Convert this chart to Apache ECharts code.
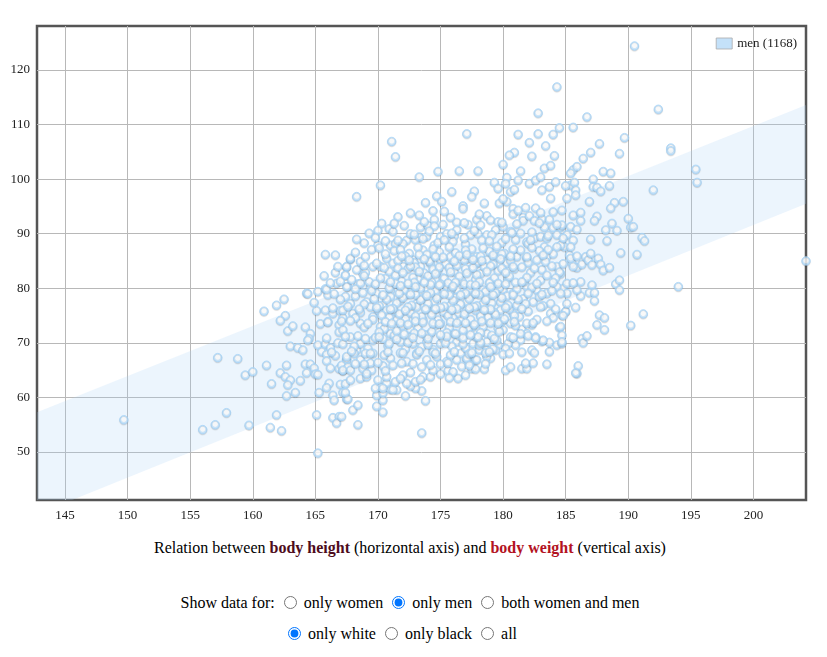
<!DOCTYPE html>
<html lang="en">
<head>
<meta charset="UTF-8" />
<title>body height vs body weight</title>
<script src="https://cdn.jsdelivr.net/npm/echarts@6/dist/echarts.min.js"></script>
<style>
  body { margin: 0; background: #fff; font-family: "Liberation Serif", "Times New Roman", serif; color: #000; }
  #chart { position: absolute; left: 0; top: 0; width: 827px; height: 527px; }
  .line { position: absolute; left: 0; width: 820px; text-align: center; font-size: 16px; line-height: 20px; white-space: nowrap; }
  .line input { vertical-align: -1px; }
  .h { color: #4e0c1c; font-weight: bold; }
  .w { color: #b3131f; font-weight: bold; }
</style>
</head>
<body>
<div id="chart"></div>
<div class="line" style="top:538px">Relation between <span class="h">body height</span> (horizontal axis) and <span class="w">body weight</span> (vertical axis)</div>
<div class="line" style="top:593px">Show data for: <input type="radio" name="sex"> only women <input type="radio" name="sex" checked> only men <input type="radio" name="sex"> both women and men</div>
<div class="line" style="top:624px;width:800px"><input type="radio" name="race" checked> only white <input type="radio" name="race"> only black <input type="radio" name="race"> all</div>
<script>
// axis ranges (cm / kg) and tick labels
var xRange = [142.76, 204.2];
var yRange = [41.2, 128.06];
var xTicks = [145, 150, 155, 160, 165, 170, 175, 180, 185, 190, 195, 200];
var yTicks = [50, 60, 70, 80, 90, 100, 110, 120];
var seriesName = 'men (1168)';

// regression band edges [height, weight]
var bandUpper = [[142.76, 57.3], [204.2, 113.6]];
var bandLower = [[142.76, 38.6], [204.2, 95.5]];

// sparse points / outliers
var menOutliers = [
  [190.5,124.4],[184.3,116.9],[192.4,112.8],[182.8,112.1],[186.7,111.4],[193.4,105.7],[193.4,105.2],
  [189.7,107.6],[177.1,108.3],[171.1,106.9],[171.4,104.1],[192.0,98.0],[194.0,80.3],[195.4,101.8],
  [195.5,99.4],[204.2,85.0],[165.2,49.8],[149.7,55.9],[173.5,53.5],[168.3,96.8],[170.2,98.9]
];

// lower left of the cloud
var menLeft = [
  [156.0,54.1],[157.0,55.0],[157.9,57.2],[157.2,67.3],[158.8,67.1],[159.4,64.1],[160.0,64.7],[159.7,54.9],
  [161.1,65.9],[160.9,75.8],[161.9,76.9],[162.5,78.0],[162.6,75.0],[162.2,74.1],[162.8,72.2],[163.2,73.1],
  [163.0,69.4],[163.6,69.1],[164.0,68.7],[162.2,64.5],[162.6,63.8],[163.0,63.2],[161.5,62.5],[162.7,65.9],
  [162.8,62.3],[162.7,60.3],[163.4,60.9],[163.8,63.1],[161.9,56.8],[161.4,54.5],[162.3,53.9],[164.2,72.9],
  [164.6,71.7],[164.5,70.8],[164.4,70.5],[164.2,66.1],[164.6,66.1],[164.9,65.4],[164.3,64.5],[165.0,64.3],
  [165.2,64.2],[165.3,60.9],[165.1,56.8],[166.4,56.3],[166.9,56.5],[166.7,55.3],[164.3,79.1],[165.2,79.4],
  [165.8,79.9],[166.0,78.8],[164.9,77.4],[165.1,75.9],[165.8,76.0],[166.4,75.4],[167.0,75.9],[165.4,73.5],
  [166.0,73.9],[166.9,73.3],[165.2,69.6],[165.8,69.8],[166.2,69.1],[166.8,70.0],[167.2,69.8],[165.5,68.4],
  [165.9,67.9],[166.6,67.7],[165.9,66.7],[166.2,65.4],[166.9,65.3],[167.2,64.9],[167.5,67.0],[167.5,65.3],
  [166.1,62.6],[165.9,61.8],[167.0,62.4],[167.4,62.5],[166.4,60.4],[166.5,59.5],[167.2,60.9],[167.5,59.7],
  [166.7,80.9],[167.4,78.5],[167.0,78.0],[167.2,74.6],[167.1,74.0],[166.9,72.0],[167.2,72.4],
  [165.8,86.2],[167.8,85.3],[167.5,83.9],[166.6,82.9],[167.4,82.4],[165.7,82.3],[167.6,80.3],[168.4,80.8],
  [165.9,79.8],[164.4,79.0]
];

// lower edge of the cloud
var menLower = [
  [168.4,55.0],[168.0,57.7],[168.4,58.6],[167.1,56.5],[169.9,58.4],[170.4,57.3],[167.6,59.7],[167.4,60.9],
  [173.8,59.4],[172.2,60.3],[171.5,61.4],[170.4,59.5],[169.9,60.4],[173.5,61.2],[173.0,61.7],[172.6,62.1],
  [171.0,61.5],[170.4,60.8],[170.2,61.9],[170.7,62.6],[171.4,62.9],[173.6,63.8],[174.2,63.8],[175.0,64.3],
  [175.6,64.9],[176.4,63.5],[177.0,64.1],[177.5,65.3],[178.5,65.2],[177.8,65.2],[180.2,65.0],[180.6,65.6],
  [181.5,65.3],[181.9,65.3],[182.4,66.3],[181.8,66.3],[183.5,66.1],[183.7,68.4],[182.3,68.7],[182.5,68.2],
  [185.9,64.4],[186.0,65.8],[185.8,64.5],[184.5,72.8],[185.0,75.7],[184.7,75.1],[183.8,75.4],[183.7,70.1],
  [183.1,70.3],[184.3,69.6],[184.7,69.9],[179.9,73.9],[180.6,73.6],[181.5,72.5],[181.9,71.7],[182.3,73.3],
  [182.6,71.1],[183.2,70.5],[181.4,70.5],[181.0,69.6],[180.4,69.9],[180.2,69.0],[179.6,69.6],[179.4,68.7],
  [179.0,67.2],[178.7,68.7],[178.1,68.7],[177.8,66.9],[177.1,66.9],[176.6,68.1],
  [168.3,68.7],[168.1,68.1],[167.5,66.9],[167.1,65.9],[167.6,65.6],[167.2,65.0],[167.8,63.2],[168.6,63.5],
  [169.1,63.8],[168.8,65.3],[169.5,65.0],[170.0,63.2],[170.7,63.8],[169.8,61.7],[170.4,61.7],[171.2,61.4],
  [172.0,64.1],[172.3,62.6],[173.0,62.9]
];

// upper part of the cloud
var menUpper = [
  [181.2,108.2],[182.8,108.3],[184.0,108.2],[184.5,109.4],[185.6,109.5],[182.1,106.7],[183.4,106.1],
  [182.3,104.2],[184.1,104.3],[180.9,104.9],[180.5,104.4],[180.0,102.7],[181.4,101.5],[183.3,102.0],
  [183.8,102.5],[173.3,100.4],[174.8,101.4],[176.5,101.5],[178.0,101.5],[179.3,99.4],[179.6,98.3],
  [180.3,100.3],[180.2,99.2],[181.2,99.8],[180.6,97.7],[180.9,98.1],[182.1,99.2],[182.6,99.8],[183.0,100.4],
  [183.7,98.6],[184.2,99.5],[183.8,96.5],[183.1,98.0],[185.1,96.5],[185.4,98.9],[185.6,101.7],[185.9,102.3],
  [175.9,97.7],[177.7,97.8],[177.5,96.8],[174.7,96.9],[175.1,95.9],[173.8,95.7],[178.5,95.6],[179.7,95.6],
  [180.3,95.9],[180.0,96.4],[180.8,94.6],[181.8,94.8],[182.6,94.7],[184.0,94.0],[184.7,94.3],[185.6,93.4],
  [176.8,95.1],[176.8,94.6],[174.4,94.2],[173.3,93.4],[171.6,93.1],[170.3,91.9],[170.0,90.6],[170.9,90.9],
  [172.1,91.5],[173.4,91.2],[174.0,91.5],[174.5,92.6],[174.5,91.4],[175.8,93.0],[176.3,92.1],[177.2,91.7],
  [177.9,92.6],[178.7,93.3],[179.0,92.5],[179.6,92.2],[180.8,93.6],[181.6,93.0],[181.6,92.4],[182.1,93.3],
  [182.5,92.4],[183.1,92.7],[183.7,92.6],[183.3,91.2],[184.0,91.1],[184.6,91.2],[185.4,91.3]
];

// right side of the cloud
var menRight = [
  [187.7,106.5],[187.0,104.9],[186.4,103.8],[189.3,104.7],[185.4,101.1],[188.0,101.4],[188.6,101.1],
  [187.2,100.0],[187.2,98.6],[187.5,98.5],[187.8,97.8],[188.5,98.8],[185.0,98.8],[185.7,99.4],[185.8,98.0],
  [185.8,97.1],[186.9,95.9],[188.9,95.7],[189.6,95.9],[188.6,94.7],[187.5,93.2],[187.3,92.4],[186.2,93.9],
  [186.2,92.4],[184.7,91.6],[185.9,90.8],[188.7,91.9],[188.2,90.7],[189.1,90.6],[190.0,92.8],[190.2,91.2],
  [190.4,91.3],[191.1,89.3],[191.3,88.7],[187.0,89.0],[188.3,88.7],[189.4,86.5],[190.7,86.2],
  [185.3,86.1],[185.5,84.7],[185.9,83.8],[186.3,84.4],[186.6,85.8],[186.8,85.2],[187.1,84.3],[187.6,85.5],
  [187.8,84.4],[188.0,83.3],[188.5,83.8],[187.0,86.4],[184.9,87.6],[184.6,87.9],[184.6,82.7],[184.8,80.0],
  [185.1,80.9],[186.2,81.2],[187.1,80.6],[186.9,79.2],[187.3,79.2],[187.3,77.7],[186.2,78.6],[189.0,80.8],
  [189.3,81.5],[189.3,79.7],[191.2,75.3],[190.2,73.2],[187.7,75.1],[188.1,74.6],[187.5,73.3],[188.1,72.4],
  [185.0,75.8],[184.8,75.0],[184.6,73.0],[184.7,71.4],[184.7,70.2],[186.3,70.8],[186.4,70.0],[186.7,71.3]
];

// dense core of the cloud
var menCore = [
  [170.0,87.9],[171.0,87.9],[171.4,88.2],[172.3,88.8],[172.6,90.0],[173.3,89.3],[173.9,89.5],[174.5,87.9],
  [175.0,89.5],[175.5,90.0],[176.1,89.6],[176.3,90.7],[177.4,89.8],[178.0,90.0],[178.7,89.8],[179.4,90.7],
  [180.0,91.3],[180.6,90.4],[181.4,90.1],[181.9,88.5],[182.5,89.2],[183.0,89.5],[183.5,89.2],[184.3,89.8],
  [185.1,89.8],[185.6,88.8],[183.3,87.6],[184.3,87.6],[185.4,87.6],
  [167.5,84.0],[167.8,85.5],[167.4,82.4],[168.8,82.7],[169.6,84.0],[170.2,84.0],[170.7,85.5],[171.2,84.6],
  [172.0,84.0],[172.8,85.2],[173.4,84.0],[174.2,84.6],[175.0,85.2],[175.8,85.8],[176.6,85.2],[177.2,85.5],
  [177.9,84.6],[178.7,85.2],[179.5,85.8],[180.3,84.6],[181.1,85.8],[181.9,85.5],[182.7,85.2],[183.5,85.8],
  [184.3,84.0],[185.4,85.5],[185.6,84.0],
  [167.5,80.3],[168.6,80.9],[169.4,80.3],[169.9,79.1],[171.0,79.7],[171.8,80.3],[172.6,79.1],[173.1,80.3],
  [173.9,80.0],[174.7,79.1],[175.5,80.3],[176.3,79.7],[177.1,80.3],[177.6,79.1],[178.4,79.7],[179.2,80.3],
  [180.0,79.7],[180.8,79.1],[181.9,80.3],[182.7,79.7],[183.5,79.1],[184.3,80.3],[185.1,79.1],[185.9,79.7],
  [167.8,77.2],[169.1,77.5],[170.4,76.9],[171.8,77.8],[173.1,77.2],[174.5,77.5],[175.8,76.9],[177.1,77.5],
  [178.4,77.2],[179.8,77.5],[181.1,76.9],[182.4,77.5],[183.8,77.2],[185.1,77.2],
  [167.2,76.0],[168.0,75.4],[168.6,73.6],[169.4,76.6],[169.6,74.8],[170.2,73.0],[170.7,76.0],[171.0,71.7],
  [171.5,74.2],[172.3,75.4],[172.6,72.4],[173.1,76.6],[173.6,74.2],[174.2,71.7],[174.5,76.0],[175.0,73.6],
  [175.5,75.4],[176.1,71.7],[176.6,74.2],[177.1,76.0],[177.6,73.0],[178.2,75.4],[178.7,71.7],[179.2,74.2],
  [179.8,76.0],[180.0,72.4],[180.8,75.4],[181.4,71.7],[181.9,73.6],
  [167.8,71.1],[168.6,69.9],[169.6,70.5],[170.4,70.8],[171.8,70.2],[172.8,69.9],[173.9,70.2],[175.0,69.9],
  [176.3,70.2],[177.6,69.9],[178.7,70.2],[179.5,70.5],[167.5,67.5],[168.6,66.9],[169.4,66.3],[169.6,68.1],
  [171.0,67.2],[172.3,66.6],[173.1,68.1],[173.9,66.9],[174.7,67.5],[175.5,66.6],[176.3,66.9],[177.1,67.2],
  [177.9,66.9],[178.7,67.5],[167.8,65.0],[169.1,64.4],
  [168.9,88.3],[170.6,88.7],[172.0,88.2],[173.0,88.9],[174.8,88.4],[176.0,88.6],[177.0,88.1],[178.3,88.8],
  [179.9,88.4],[181.0,88.9],[182.0,88.2],
  [168.2,86.6],[169.5,87.1],[171.3,86.9],[172.5,86.4],[173.6,87.0],[174.9,86.7],[176.2,86.5],[177.5,87.2],
  [178.9,86.8],[180.1,86.4],[181.4,87.0],[182.9,86.9],[184.0,86.3],
  [168.3,83.4],[169.0,82.9],[170.9,83.1],[172.4,83.6],[173.7,82.8],[174.8,83.3],[176.1,83.0],[177.4,83.5],
  [178.2,82.7],[179.6,83.2],[180.9,83.6],[182.2,82.9],[183.1,83.4],[184.5,83.0],
  [167.9,81.6],[169.3,81.2],[170.6,81.8],[171.9,81.3],[173.2,81.7],[174.3,81.1],[175.2,81.9],[176.7,81.4],
  [177.8,81.6],[179.0,81.2],[180.4,81.8],[181.7,81.3],[183.0,81.5],[184.2,81.9],
  [168.2,78.6],[169.7,78.1],[171.0,78.5],[172.3,78.9],[173.6,78.2],[174.9,78.7],[176.2,78.3],[177.5,78.8],
  [178.8,78.2],[180.3,78.6],[181.6,78.1],[182.9,78.5],
  [168.6,75.6],[170.0,76.1],[171.3,75.9],[172.6,75.5],[173.9,76.2],[175.2,75.7],[176.4,75.4],[177.8,76.0],
  [179.3,75.6],[180.5,76.2],[182.0,75.8],
  [168.9,72.9],[170.5,72.6],[171.9,73.1],[173.2,72.7],[174.6,73.3],[175.7,72.8],[177.2,72.5],[178.4,73.0],
  [179.6,72.7],[181.0,73.2],
  [168.1,69.4],[169.2,69.0],[170.8,69.5],[172.2,68.9],[173.5,69.3],[174.4,68.8],[175.9,69.4],[177.0,69.1],
  [178.1,69.6],[179.2,68.9],
  [168.2,66.2],[170.4,65.8],[171.9,66.3],[173.5,65.6],[175.0,66.1],[176.7,65.7]
];

// second pass over the crowded middle
var menCoreDense = [
  [169.3,90.1],[171.2,90.4],[172.9,89.9],[174.1,90.5],[175.9,90.1],[177.7,90.6],[179.1,89.8],[180.7,90.2],
  [182.3,90.3],[183.6,89.7],
  [170.1,87.4],[171.8,87.1],[173.2,87.5],[174.4,87.2],[175.7,87.6],[177.0,87.0],[178.4,87.4],[179.5,87.7],
  [180.8,87.2],[182.3,87.5],[183.6,87.1],
  [168.6,84.9],[169.9,84.6],[171.6,85.1],[172.9,84.7],[174.1,85.0],[175.4,84.5],[176.9,85.2],[178.0,84.8],
  [179.2,84.4],[180.6,85.1],[182.0,84.7],[183.4,84.9],[184.8,84.5],
  [168.9,82.3],[170.2,81.9],[171.4,82.4],[172.8,82.0],[174.0,82.3],[175.3,81.8],[176.5,82.2],[177.9,82.5],
  [179.3,81.9],[180.5,82.2],[181.9,82.0],[183.5,82.4],
  [168.2,79.9],[169.5,79.6],[170.9,80.1],[172.1,79.7],[173.4,80.0],[174.6,79.5],[175.9,80.0],[177.3,79.8],
  [178.6,79.4],[179.7,80.1],[181.1,79.9],[182.3,80.2],[183.9,79.6],
  [168.9,77.1],[170.1,76.8],[171.5,77.3],[172.7,76.9],[174.0,77.2],[175.3,76.7],[176.6,77.1],[177.9,76.8],
  [179.1,77.3],[180.4,76.9],[181.8,77.2],[183.2,76.8],
  [168.2,74.6],[169.6,74.3],[170.9,74.7],[172.2,74.4],[173.5,74.8],[174.8,74.2],[176.0,74.6],[177.4,74.3],
  [178.8,74.7],[180.1,74.4],[181.3,74.8],[182.7,74.3],[184.0,74.6],
  [168.4,71.3],[169.8,71.0],[171.3,71.4],[172.5,71.1],[173.8,71.5],[175.2,70.9],[176.5,71.3],[177.9,71.0],
  [179.1,71.4],[180.6,71.1],[182.0,71.3],
  [169.0,68.1],[170.5,67.8],[171.8,68.2],[173.1,67.9],[174.4,68.3],[175.8,67.8],[177.3,68.0],[178.6,68.2],
  [180.0,67.9],
  [170.6,64.9],[172.6,64.6],[174.4,65.0],[176.0,64.7],
  [172.2,85.9],[173.9,86.2],[175.2,85.7],[176.5,86.0],[177.9,85.8],[179.2,86.1],[180.6,85.9],
  [171.6,83.7],[173.0,83.9],[174.4,83.5],[175.7,83.8],[177.0,83.6],[178.5,84.0],[179.9,83.7],[181.5,83.9],
  [171.4,80.9],[172.9,81.1],[174.2,80.7],[175.6,81.0],[176.9,80.8],[178.1,81.2],[179.6,80.9],[181.0,81.1],
  [170.7,78.0],[172.0,78.3],[173.4,77.9],[174.7,78.2],[176.0,77.8],[177.3,78.1],[178.6,77.9],[179.9,78.3],
  [181.2,78.0],
  [170.3,75.1],[171.7,75.3],[173.0,74.9],[174.3,75.2],[175.6,75.0],[176.9,75.3],[178.2,74.9],[179.4,75.2],
  [180.9,75.0],
  [170.1,72.0],[171.5,72.2],[172.9,71.8],[174.3,72.1],[175.5,71.9],[176.8,72.3],[178.2,71.9],[179.7,72.1],
  [170.9,69.9],[172.4,70.1],[174.0,69.7],[175.4,70.0],[176.8,69.8],[178.2,70.1]
];

// third pass: flanks and remaining gaps
var menFill = [
  [172.6,93.8],[175.3,94.1],[178.1,93.6],[181.2,94.3],[183.0,93.9],
  [171.3,91.9],[173.7,92.2],[175.2,91.7],[176.9,92.0],[178.2,91.6],[179.9,92.1],[181.1,91.8],[182.9,92.0],[184.3,91.7],
  [168.3,89.0],[169.8,89.3],[171.6,88.8],[173.6,89.1],[175.3,88.9],[176.9,89.2],[178.9,88.7],[180.2,89.1],[182.2,88.9],[184.8,89.2],
  [166.6,86.1],[169.0,85.8],[170.6,86.3],[171.9,85.9],[173.3,86.2],[174.6,85.8],[177.1,86.2],[178.2,85.9],[179.9,86.3],[181.9,85.8],[183.2,86.1],[185.9,85.9],
  [166.8,84.0],[168.9,84.2],[170.5,83.8],[172.6,84.1],[174.9,83.9],[176.3,84.2],[177.6,83.8],[179.0,84.1],[180.8,84.0],[182.5,83.7],[183.9,84.1],
  [166.2,81.0],[167.0,81.3],[169.8,80.8],[171.0,81.2],[172.4,80.9],[173.7,81.1],[175.0,80.8],[176.2,81.1],[177.4,80.7],
  [178.9,81.0],[180.2,80.8],[181.5,81.2],[182.7,80.9],[184.0,81.1],[185.6,81.0],
  [166.5,79.0],[168.8,79.2],[170.4,78.8],[171.7,79.1],[173.0,78.9],[174.2,79.2],[175.7,78.8],[177.0,79.1],[178.1,78.9],
  [179.4,79.2],[180.8,78.8],[182.0,79.1],[183.1,78.9],[184.6,79.1],
  [166.4,76.4],[167.6,76.7],[168.5,76.2],[169.9,76.5],[171.2,76.3],[172.4,76.6],[173.8,76.2],[175.0,76.5],[176.3,76.3],
  [177.7,76.6],[179.0,76.2],[180.2,76.5],[181.5,76.3],[183.0,76.6],[184.2,76.2],[185.8,76.5],
  [166.0,73.8],[167.8,74.1],[169.2,73.6],[170.6,73.9],[171.8,73.7],[173.0,74.0],[174.4,73.6],[175.8,73.9],[177.0,73.7],
  [178.3,74.0],[179.6,73.6],[180.9,73.9],[182.4,73.7],[183.5,74.0],
  [165.9,70.9],[167.4,71.2],[169.0,70.8],[170.1,71.1],[171.5,70.7],[172.8,71.0],[174.0,70.8],[175.5,71.2],[176.8,70.9],
  [178.0,71.1],[179.3,70.8],[180.8,71.0],[182.6,70.9],
  [166.3,68.3],[167.9,68.5],[169.4,68.1],[170.8,68.4],[172.0,68.2],[173.3,68.5],[174.6,68.1],[176.1,68.4],[177.5,68.2],
  [178.9,68.4],[180.5,68.1],[181.5,68.3],
  [168.9,66.1],[170.0,66.4],[171.2,65.9],[172.8,66.2],[174.2,66.0],[175.6,66.3],[177.3,65.9],[178.6,66.2],
  [171.8,63.5],[173.4,63.3],[175.7,63.6],
  [172.5,85.2],[173.7,85.4],[176.1,85.0],[177.6,85.3],[178.3,85.1],[179.8,85.4],
  [172.0,82.9],[173.3,83.1],[174.6,82.7],[175.8,83.0],[177.1,82.8],[178.7,83.1],[180.2,82.9],
  [171.8,80.5],[173.0,80.3],[174.9,80.6],[176.0,80.4],[177.8,80.6],[179.0,80.3],
  [172.6,78.9],[173.9,78.7],[175.3,79.0],[176.6,78.8],[177.8,79.1],[179.2,78.8],
  [171.0,76.2],[172.2,76.0],[174.6,76.3],[175.9,76.1],[177.3,76.4],[178.5,76.1],
  [171.1,73.6],[172.4,73.4],[173.6,73.8],[174.9,73.5],[176.3,73.7],[177.7,73.4],[179.0,73.7],
  [172.1,71.6],[173.5,71.8],[175.0,71.5],[176.2,71.7],[177.4,71.5]
];

var menPoints = [].concat(menOutliers, menLeft, menLower, menUpper, menRight, menCore, menCoreDense, menFill);

var chart = echarts.init(document.getElementById('chart'));

var serif = '"Liberation Serif", "Times New Roman", serif';
var labelFont = { fontFamily: serif, fontSize: 13, color: '#222' };

chart.setOption({
  animation: false,
  grid: { left: 37, top: 26, width: 769, height: 474, show: true, borderColor: '#555', borderWidth: 2.5, backgroundColor: 'transparent' },
  legend: {
    right: 25, top: 32, itemWidth: 16, itemHeight: 11, itemGap: 6,
    textStyle: { fontFamily: serif, fontSize: 13, color: '#222' },
    data: [{ name: seriesName, icon: 'rect', itemStyle: { color: '#b5daf7', borderColor: '#aaa', borderWidth: 1 } }]
  },
  xAxis: {
    type: 'value', min: xRange[0], max: xRange[1],
    axisLine: { show: false },
    axisTick: { show: false, customValues: xTicks },
    axisLabel: Object.assign({ margin: 9, customValues: xTicks }, labelFont),
    splitLine: { show: true, lineStyle: { color: '#b8b8b8', width: 1 } }
  },
  yAxis: {
    type: 'value', min: yRange[0], max: yRange[1],
    axisLine: { show: false },
    axisTick: { show: false, customValues: yTicks },
    axisLabel: Object.assign({ margin: 7, customValues: yTicks }, labelFont),
    splitLine: { show: true, lineStyle: { color: '#b8b8b8', width: 1 } }
  },
  series: [
    {
      type: 'custom',
      name: 'band',
      silent: true,
      z: 1,
      data: [0],
      renderItem: function (params, api) {
        var cs = params.coordSys;
        var pts = [
          api.coord(bandUpper[0]), api.coord(bandUpper[1]),
          api.coord(bandLower[1]), api.coord(bandLower[0])
        ];
        return {
          type: 'polygon',
          shape: { points: pts },
          clipPath: { type: 'rect', shape: { x: cs.x, y: cs.y, width: cs.width, height: cs.height } },
          style: { fill: 'rgba(170,208,245,0.22)' }
        };
      }
    },
    {
      type: 'scatter',
      name: seriesName,
      z: 3,
      symbol: 'circle',
      symbolSize: 8.5,
      data: menPoints,
      itemStyle: {
        color: {
          type: 'radial', x: 0.5, y: 0.45, r: 0.5,
          colorStops: [
            { offset: 0, color: '#ffffff' },
            { offset: 0.45, color: '#ffffff' },
            { offset: 0.62, color: '#cde8fd' },
            { offset: 1, color: '#b0dafb' }
          ]
        },
        borderColor: '#a3d2f8',
        borderWidth: 0.9,
        shadowColor: 'rgba(0,0,0,0.14)',
        shadowBlur: 1,
        shadowOffsetY: 1
      },
      emphasis: { disabled: true }
    }
  ]
});
</script>
</body>
</html>
